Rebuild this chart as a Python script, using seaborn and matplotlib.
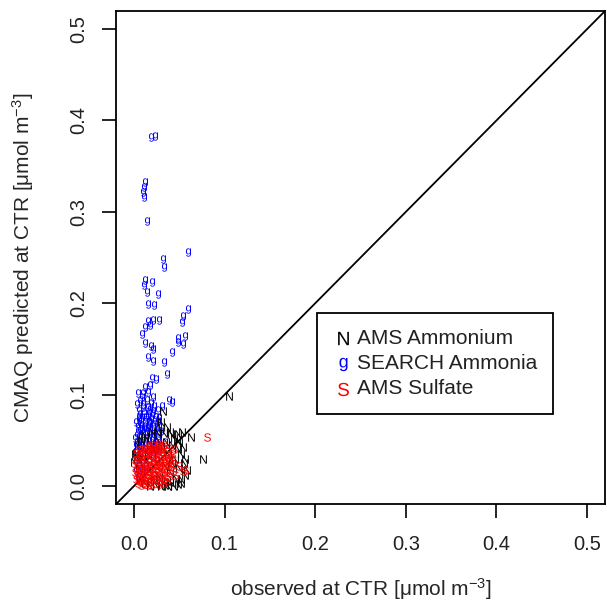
import matplotlib
matplotlib.use("Agg")
import matplotlib.pyplot as plt
import seaborn as sns
import pandas as pd

# ---- data ----
nh4_x = [0.105, 0.063, 0.076, 0.032, 0.030, 0.025, 0.033, 0.041, 0.048, 0.036,
         0.001, 0.000, 0.004, 0.008, 0.012, 0.018,
         0.042, 0.048, 0.052, 0.045, 0.055, 0.050, 0.056, 0.046, 0.052, 0.044,
         0.038, 0.030, 0.024, 0.018, 0.036, 0.040, 0.034, 0.038, 0.030, 0.026,
         0.021, 0.015, 0.010, 0.006, 0.042, 0.028, 0.022, 0.012, 0.047, 0.035,
         0.058, 0.054, 0.053, 0.040, 0.020, 0.003, 0.002, 0.050, 0.044, 0.056,
         0.052, 0.049, 0.040, 0.034]
nh4_y = [0.098, 0.054, 0.029, 0.082, 0.070, 0.059, 0.058, 0.057, 0.057, 0.064,
         0.035, 0.026, 0.044, 0.050, 0.055, 0.046,
         0.045, 0.040, 0.035, 0.030, 0.025, 0.020, 0.012, 0.008, 0.003, 0.000,
         0.000, 0.000, 0.001, 0.000, 0.005, 0.015, 0.022, 0.035, 0.043, 0.050,
         0.040, 0.035, 0.030, 0.020, 0.025, 0.010, 0.006, 0.003, 0.050, 0.048,
         0.018, 0.043, 0.059, 0.059, 0.059, 0.031, 0.036, 0.048, 0.052, 0.030,
         0.008, 0.002, 0.004, 0.001]

nh3_x = [0.019, 0.023, 0.012, 0.011, 0.010, 0.011, 0.014,
         0.060, 0.032, 0.033, 0.012, 0.020, 0.011, 0.014, 0.026,
         0.015, 0.022, 0.060, 0.054, 0.053, 0.015, 0.021, 0.028, 0.012, 0.018,
         0.009, 0.056, 0.049, 0.048, 0.054, 0.012, 0.019, 0.021, 0.042,
         0.015, 0.021, 0.033, 0.036, 0.020, 0.024, 0.018, 0.012,
         0.004, 0.010, 0.015, 0.009, 0.021, 0.039, 0.042, 0.031, 0.010, 0.018, 0.021,
         0.009, 0.015, 0.024,
         0.005, 0.012, 0.018, 0.026, 0.008, 0.015, 0.022, 0.004, 0.010, 0.017,
         0.027, 0.006, 0.013, 0.020, 0.003, 0.009, 0.016, 0.024, 0.005, 0.012,
         0.019, 0.028, 0.007, 0.014, 0.021, 0.003, 0.010, 0.017, 0.025, 0.006,
         0.013, 0.002, 0.009, 0.004, 0.034, 0.030, 0.002, 0.011, 0.019, 0.007,
         0.002, 0.006, 0.010, 0.014, 0.018, 0.022, 0.026, 0.003, 0.007, 0.012,
         0.016, 0.021, 0.025, 0.004, 0.008, 0.013, 0.017, 0.022, 0.026, 0.005,
         0.010, 0.014, 0.019, 0.003, 0.007, 0.011, 0.020, 0.023, 0.028, 0.001,
         0.005, 0.009, 0.016, 0.012, 0.008, 0.020, 0.024, 0.002, 0.028, 0.015]
nh3_y = [0.382, 0.383, 0.333, 0.327, 0.322, 0.316, 0.290,
         0.256, 0.248, 0.240, 0.225, 0.223, 0.220, 0.212, 0.210,
         0.199, 0.198, 0.194, 0.186, 0.179, 0.181, 0.182, 0.182, 0.174, 0.176,
         0.166, 0.164, 0.162, 0.158, 0.155, 0.156, 0.153, 0.150, 0.147,
         0.141, 0.137, 0.136, 0.123, 0.118, 0.117, 0.111, 0.108,
         0.102, 0.102, 0.103, 0.097, 0.097, 0.094, 0.092, 0.088, 0.086, 0.084, 0.082,
         0.076, 0.076, 0.076,
         0.072, 0.070, 0.068, 0.071, 0.066, 0.064, 0.062, 0.060, 0.058, 0.057,
         0.058, 0.054, 0.052, 0.050, 0.048, 0.046, 0.045, 0.047, 0.042, 0.040,
         0.039, 0.041, 0.036, 0.034, 0.033, 0.030, 0.029, 0.027, 0.028, 0.024,
         0.022, 0.018, 0.016, 0.010, 0.048, 0.060, 0.038, 0.063, 0.073, 0.079,
         0.045, 0.049, 0.053, 0.057, 0.061, 0.055, 0.052, 0.056, 0.061, 0.066,
         0.070, 0.066, 0.064, 0.066, 0.071, 0.075, 0.080, 0.087, 0.083, 0.083,
         0.090, 0.094, 0.091, 0.090, 0.093, 0.080, 0.078, 0.072, 0.066, 0.052,
         0.075, 0.062, 0.050, 0.046, 0.043, 0.043, 0.038, 0.070, 0.074, 0.086]

so4_x = [0.080, 0.056, 0.050, 0.045, 0.040, 0.036, 0.033, 0.030, 0.028, 0.025,
         0.022, 0.020, 0.018, 0.015, 0.012, 0.009, 0.006, 0.003, 0.001, 0.002,
         0.004, 0.008, 0.012, 0.016, 0.020, 0.024, 0.028, 0.032, 0.036, 0.038,
         0.034, 0.030, 0.026, 0.022, 0.018, 0.014, 0.010, 0.006, 0.004, 0.008,
         0.012, 0.016, 0.020, 0.024, 0.028, 0.032, 0.026, 0.022, 0.018, 0.014,
         0.010, 0.007, 0.011, 0.015, 0.003, 0.005, 0.030, 0.034, 0.040, 0.042,
         0.038, 0.026, 0.019, 0.013, 0.017, 0.021, 0.025, 0.029, 0.033, 0.009,
         0.005, 0.044,
         0.002, 0.005, 0.008, 0.011, 0.014, 0.017, 0.020, 0.023, 0.027, 0.031,
         0.035, 0.039, 0.043, 0.041, 0.043, 0.039, 0.036, 0.032, 0.027, 0.023,
         0.019, 0.015, 0.010, 0.006, 0.003, 0.001, 0.002, 0.005, 0.009, 0.013,
         0.017, 0.021, 0.025, 0.029, 0.033, 0.037, 0.035, 0.031, 0.027, 0.023,
         0.019, 0.015, 0.011, 0.007, 0.013, 0.009, 0.016, 0.012, 0.024, 0.028,
         0.020, 0.026, 0.030, 0.054]
so4_y = [0.054, 0.017, 0.022, 0.012, 0.030, 0.038, 0.045, 0.040, 0.047, 0.043,
         0.038, 0.045, 0.040, 0.036, 0.032, 0.028, 0.025, 0.020, 0.015, 0.008,
         0.003, 0.001, 0.002, 0.004, 0.006, 0.008, 0.012, 0.015, 0.020, 0.026,
         0.028, 0.024, 0.020, 0.016, 0.012, 0.009, 0.006, 0.010, 0.014, 0.018,
         0.022, 0.026, 0.030, 0.033, 0.035, 0.033, 0.027, 0.024, 0.020, 0.016,
         0.012, 0.035, 0.040, 0.044, 0.030, 0.005, 0.005, 0.009, 0.018, 0.035,
         0.042, 0.038, 0.034, 0.027, 0.016, 0.011, 0.014, 0.018, 0.022, 0.022,
         0.018, 0.040,
         0.036, 0.039, 0.041, 0.037, 0.040, 0.043, 0.041, 0.040, 0.041, 0.037,
         0.034, 0.031, 0.028, 0.022, 0.016, 0.011, 0.006, 0.003, 0.002, 0.003,
         0.001, 0.001, 0.003, 0.007, 0.012, 0.024, 0.028, 0.032, 0.034, 0.036,
         0.031, 0.027, 0.024, 0.029, 0.026, 0.024, 0.015, 0.011, 0.007, 0.012,
         0.008, 0.012, 0.016, 0.014, 0.006, 0.009, 0.021, 0.019, 0.019, 0.023,
         0.020, 0.045, 0.043, 0.016]

series_labels = ["AMS Ammonium", "SEARCH Ammonia", "AMS Sulfate"]
series_chars = ["N", "g", "S"]
series_colors = ["black", "#0000FF", "#FF0000"]
axis_ticks = [0.0, 0.1, 0.2, 0.3, 0.4, 0.5]
tick_labels = ["0.0", "0.1", "0.2", "0.3", "0.4", "0.5"]

# ---- plotting ----
sns.set_style("ticks")
plt.rcParams["font.family"] = ["Liberation Sans", "DejaVu Sans"]
plt.rcParams["mathtext.fontset"] = "custom"
plt.rcParams["mathtext.rm"] = "Liberation Sans"
plt.rcParams["mathtext.it"] = "Liberation Sans"
plt.rcParams["mathtext.bf"] = "Liberation Sans:bold"
plt.rcParams["text.color"] = "#222222"

fig = plt.figure(figsize=(6.07, 6.01), dpi=100)
ax = fig.add_axes([0.191, 0.161, 0.806, 0.821])

data = {"N": (nh4_x, nh4_y), "g": (nh3_x, nh3_y), "S": (so4_x, so4_y)}
for ch in ["g", "N", "S"]:
    i = series_chars.index(ch)
    x, y = data[ch]
    df = pd.DataFrame({"x": x, "y": y})
    sns.scatterplot(data=df, x="x", y="y", ax=ax, marker=f"$\\mathrm{{{ch}}}$",
                    color=series_colors[i], s=36, linewidth=0,
                    label=series_labels[i], legend=False)

ax.axline((0, 0), slope=1, color="black", lw=1.3, zorder=0.5)

ax.set_xlim(-0.02, 0.52)
ax.set_ylim(-0.02, 0.52)
ax.set_xticks(axis_ticks)
ax.set_xticklabels(tick_labels, fontsize=14.5)
ax.set_yticks(axis_ticks)
ax.set_yticklabels(tick_labels, fontsize=14.5, rotation=90, va="center")
ax.tick_params(direction="out", length=10, width=1.2, colors="black",
               labelcolor="#222222")
ax.tick_params(axis="x", pad=12)
ax.tick_params(axis="y", pad=10)
for sp in ax.spines.values():
    sp.set_visible(True)
    sp.set_linewidth(1.3)
    sp.set_color("black")

ax.set_xlabel("observed at CTR [μmol m$^{-3}$]", fontsize=15)
ax.set_ylabel("CMAQ predicted at CTR [μmol m$^{-3}$]", fontsize=15)
ax.xaxis.set_label_coords(0.5, -0.146)
ax.yaxis.set_label_coords(-0.163, 0.5)

h, l = ax.get_legend_handles_labels()
order = [l.index(s) for s in series_labels]
leg = ax.legend([h[k] for k in order], [l[k] for k in order],
                loc="upper left", bbox_to_anchor=(0.41, 0.387), frameon=True,
                fancybox=False, edgecolor="black", framealpha=1, fontsize=15,
                markerscale=1.6, handletextpad=0.2, handlelength=1.0,
                borderpad=0.75, labelspacing=0.3, borderaxespad=0)
leg.get_frame().set_linewidth(1.3)

fig.savefig("out.png", dpi=100)
